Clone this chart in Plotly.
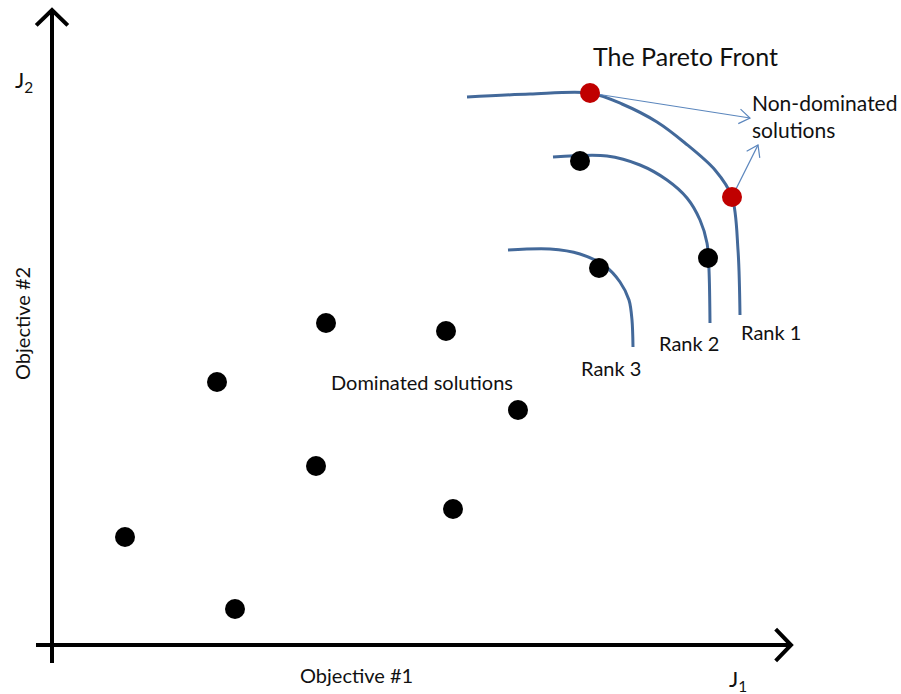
import numpy as np
import plotly.graph_objects as go

# Objective space coordinates (J1, J2)
dominated_j1 = [7.3, 18.3, 16.5, 26.4, 27.4, 39.4, 40.1, 46.6, 52.8, 54.7, 65.6]
dominated_j2 = [10.8, 3.6, 26.3, 17.9, 32.2, 31.4, 13.6, 23.5, 48.4, 37.7, 38.7]

front_j1 = [53.8, 68.0]
front_j2 = [55.2, 44.8]

# Rank curves (non-dominated sorting layers)
rank1_j1 = [41.5, 47.8, 53.8, 57.0, 60.5, 63.3, 66.3, 68.0, 68.6, 68.8]
rank1_j2 = [54.8, 55.1, 55.2, 54.1, 52.3, 50.2, 47.5, 44.8, 39.5, 33.0]
rank2_j1 = [50.1, 55.5, 58.8, 61.5, 63.5, 64.8, 65.5, 65.7, 65.8]
rank2_j2 = [48.8, 48.9, 48.0, 46.5, 44.7, 42.5, 40.2, 37.5, 32.2]
rank3_j1 = [45.6, 49.8, 52.8, 55.3, 56.8, 57.7, 58.0, 58.1]
rank3_j2 = [39.5, 39.6, 39.1, 37.9, 36.3, 34.5, 32.5, 29.8]

# Axis extents
axis_j1 = [-1.6, 73.9]
axis_j2 = [-1.8, 63.5]

X_RANGE = [-5.2, 84.9]
Y_RANGE = [-4.9, 64.5]

BLACK = "#000000"
CURVE = "#43699a"
THIN = "#5b86bd"
RED = "#c00000"
FONT = "Lato"

fig = go.Figure()


def add_line(xs, ys, color, width):
    fig.add_trace(go.Scatter(x=xs, y=ys, mode="lines", hoverinfo="skip",
                             line=dict(color=color, width=width, shape="spline", smoothing=0.9)))


def add_open_arrow(x0, y0, x1, y1, color, width, head, spread=0.5):
    # shaft + open chevron head at (x1, y1)
    fig.add_trace(go.Scatter(x=[x0, x1], y=[y0, y1], mode="lines", hoverinfo="skip",
                             line=dict(color=color, width=width)))
    ang = np.arctan2(y1 - y0, x1 - x0)
    hx = [x1 - head * np.cos(ang + spread), x1, x1 - head * np.cos(ang - spread)]
    hy = [y1 - head * np.sin(ang + spread), y1, y1 - head * np.sin(ang - spread)]
    fig.add_trace(go.Scatter(x=hx, y=hy, mode="lines", hoverinfo="skip",
                             line=dict(color=color, width=width)))


# axes with open arrowheads
add_open_arrow(axis_j1[0], 0, axis_j1[1], 0, BLACK, 4, 2.2, spread=0.8)
add_open_arrow(0, axis_j2[0], 0, axis_j2[1], BLACK, 4, 2.2, spread=0.8)

# rank curves
add_line(rank1_j1, rank1_j2, CURVE, 3)
add_line(rank2_j1, rank2_j2, CURVE, 3)
add_line(rank3_j1, rank3_j2, CURVE, 3)

# pointers to non-dominated solutions
add_open_arrow(front_j1[0], front_j2[0], 69.8, 52.7, THIN, 1.2, 1.3, spread=0.6)
add_open_arrow(front_j1[1], front_j2[1], 70.6, 50.0, THIN, 1.2, 1.3, spread=0.6)

# solutions
fig.add_trace(go.Scatter(x=dominated_j1, y=dominated_j2, mode="markers", hoverinfo="skip",
                         marker=dict(color=BLACK, size=20, line=dict(width=0))))
fig.add_trace(go.Scatter(x=front_j1, y=front_j2, mode="markers", hoverinfo="skip",
                         marker=dict(color=RED, size=20, line=dict(width=0))))

labels = [
    (63.3, 58.9, "The Pareto Front", 25, "center"),
    (69.8, 54.3, "Non-dominated", 21, "left"),
    (69.8, 51.6, "solutions", 21, "left"),
    (71.9, 31.3, "Rank 1", 20, "center"),
    (63.7, 30.2, "Rank 2", 20, "center"),
    (55.9, 27.7, "Rank 3", 20, "center"),
    (37.0, 26.3, "Dominated solutions", 20, "center"),
    (30.4, -3.0, "Objective #1", 20, "center"),
    (68.6, -3.5, "J<sub>1</sub>", 22, "center"),
    (-2.8, 56.4, "J<sub>2</sub>", 22, "center"),
]
for x, y, t, s, al in labels:
    fig.add_annotation(x=x, y=y, text=t, showarrow=False, xanchor=al, yanchor="middle",
                       font=dict(family=FONT, size=s, color="#111111"))

fig.add_annotation(x=-3.0, y=32.1, text="Objective #2", showarrow=False, textangle=-90,
                   xanchor="center", yanchor="middle",
                   font=dict(family=FONT, size=20, color="#111111"))

fig.update_layout(
    width=901, height=694, autosize=False,
    margin=dict(l=0, r=0, t=0, b=0),
    paper_bgcolor="white", plot_bgcolor="white",
    showlegend=False,
    xaxis=dict(range=X_RANGE, visible=False, fixedrange=True),
    yaxis=dict(range=Y_RANGE, visible=False, fixedrange=True),
)

fig.write_html("out.html")
